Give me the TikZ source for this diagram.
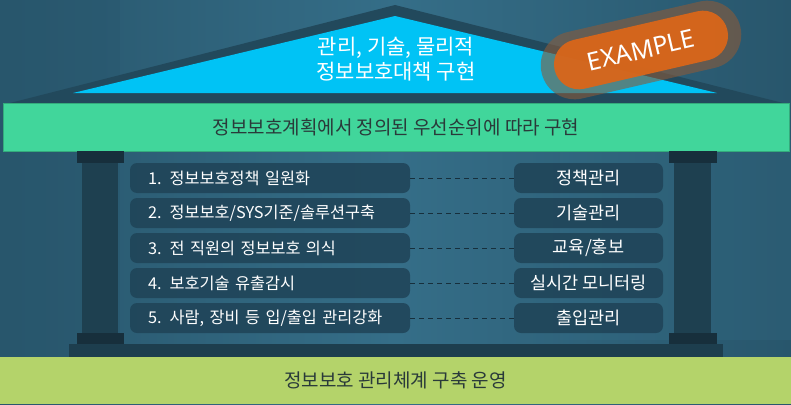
\documentclass[tikz,border=0pt]{standalone}
\usepackage{fontspec}
\setmainfont{Noto Sans CJK KR}
\newfontfamily\stampfont{Noto Sans}
\usetikzlibrary{shapes.misc}
\definecolor{bgA}{HTML}{356E88}
\definecolor{bgB}{HTML}{28566C}
\definecolor{roofdark}{HTML}{22495C}
\definecolor{roofcyan}{HTML}{00C3F5}
\definecolor{bargreen}{HTML}{41D69B}
\definecolor{basegreen}{HTML}{B4D36A}
\definecolor{boxfill}{HTML}{1F4357}
\definecolor{colshaft}{HTML}{1E4050}
\definecolor{colcap}{HTML}{172F3C}
\definecolor{darktext}{HTML}{2A3A3A}
\definecolor{stamp}{HTML}{D9661A}
\definecolor{halo}{HTML}{8A5A3A}
\tikzset{
  itembox/.style={fill=boxfill, fill opacity=0.85, text opacity=1, rounded corners=7pt, minimum height=30pt, inner sep=0pt, text=white, font=\fontsize{17.5}{20}\selectfont},
  leftbox/.style={itembox, minimum width=280pt, text width=262pt, align=left, font=\fontsize{16.3}{20}\selectfont},
  rightbox/.style={itembox, minimum width=149pt, align=center},
  link/.style={draw=colcap, line width=1pt, dash pattern=on 5pt off 4pt},
}
\newcommand{\indentitem}{\hspace*{9pt}}
\begin{document}
\begin{tikzpicture}[x=1pt,y=-1pt]
\useasboundingbox (0,0) rectangle (791,404);
\shade[left color=bgB, right color=bgB, middle color=bgA] (0,0) rectangle (791,404);
\fill[bgB, opacity=0.35] (0,0) rectangle (120,404);
\fill[bgA, opacity=0.25] (560,140) rectangle (791,340);
% roof
\fill[roofdark] (10,103) -- (395,5) -- (783,103) -- cycle;
\fill[roofcyan] (73,93) -- (395,16) -- (717,93) -- cycle;
\node[text=white, align=center, font=\fontsize{21}{25}\selectfont] (rooftext) at (396,59) {관리, 기술, 물리적\\정보보호대책 구현};
% green bar
\node[fill=bargreen, draw=bargreen!80!black, line width=0.6pt, minimum width=786pt, minimum height=48pt, inner sep=0pt, text=darktext, font=\fontsize{19}{22}\selectfont] (bar) at (396,127) {정보보호계획에서 정의된 우선순위에 따라 구현};
% columns
\fill[colshaft] (82,162) rectangle (118,333);
\fill[colcap] (77,151) rectangle (124,163);
\fill[colcap] (77,333) rectangle (124,344);
\fill[colshaft] (674,162) rectangle (711,333);
\fill[colcap] (669,151) rectangle (717,163);
\fill[colcap] (669,333) rectangle (717,344);
\fill[roofdark!85!black] (69,344) rectangle (723,357);
% base
\node[fill=basegreen, minimum width=791pt, minimum height=47pt, inner sep=0pt, text=darktext, font=\fontsize{19}{22}\selectfont] (base) at (395.5,380.5) {정보보호 관리체계 구축 운영};
% boxes
\node[leftbox] (l1) at (270,178) {\indentitem 1. 정보보호정책 일원화};
\node[leftbox] (l2) at (270,213) {\indentitem 2. 정보보호/SYS기준/솔루션구축};
\node[leftbox] (l3) at (270,248) {\indentitem 3. 전 직원의 정보보호 의식};
\node[leftbox] (l4) at (270,283) {\indentitem 4. 보호기술 유출감시};
\node[leftbox] (l5) at (270,318) {\indentitem 5. 사람, 장비 등 입/출입 관리강화};
\node[rightbox] (r1) at (588.5,178) {정책관리};
\node[rightbox] (r2) at (588.5,213) {기술관리};
\node[rightbox] (r3) at (588.5,248) {교육/홍보};
\node[rightbox] (r4) at (588.5,283) {실시간 모니터링};
\node[rightbox] (r5) at (588.5,318) {출입관리};
\foreach \i in {1,...,5} \draw[link] (l\i.east) -- (r\i.west);
% stamp
\fill[halo, opacity=0.6, rotate around={13:(641,50)}, rounded corners=34pt] (539,16) rectangle (743,84);
\node[rounded rectangle, fill=stamp, fill opacity=0.95, text opacity=1, text=white, minimum width=184pt, minimum height=50pt, rotate=13, font=\stampfont\fontsize{25}{28}\selectfont] (stampnode) at (641,50) {EXAMPLE};
\end{tikzpicture}
\end{document}
